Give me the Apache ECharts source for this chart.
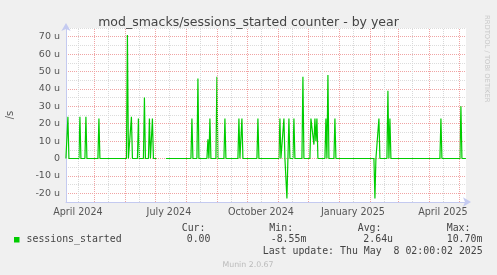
<!DOCTYPE html>
<html>
<head>
<meta charset="utf-8">
<script src="https://cdn.jsdelivr.net/npm/echarts@6/dist/echarts.min.js"></script>
<style>
  html, body { margin: 0; padding: 0; background: #f0f0f0; }
  #chart { width: 497px; height: 275px; }
</style>
</head>
<body>
<div id="chart"></div>
<script>
// ---- Data (per-day values, rate in micro /s) ----
const pointDates = [
  "2024-04-03","2024-04-04","2024-04-05","2024-04-06",
  "2024-04-16","2024-04-17","2024-04-18",
  "2024-04-22","2024-04-23","2024-04-24",
  "2024-05-05","2024-05-06","2024-05-07",
  "2024-06-02T12:00:00","2024-06-03T12:00:00","2024-06-04T12:00:00",
  "2024-06-06T12:00:00","2024-06-07T12:00:00","2024-06-08T12:00:00",
  "2024-06-13T12:00:00","2024-06-14T12:00:00","2024-06-15T12:00:00",
  "2024-06-19T12:00:00","2024-06-20T12:00:00","2024-06-21T12:00:00",
  "2024-06-24T12:00:00","2024-06-25T12:00:00","2024-06-26T12:00:00",
  "2024-06-27T12:00:00","2024-06-28T12:00:00","2024-06-29T12:00:00",
  "2024-07-02T12:00:00","2024-07-03","2024-07-11","2024-07-12",
  "2024-08-06","2024-08-07","2024-08-08",
  "2024-08-12","2024-08-13","2024-08-14",
  "2024-08-22","2024-08-23","2024-08-24","2024-08-25","2024-08-26",
  "2024-08-31","2024-09-01","2024-09-02",
  "2024-09-08","2024-09-09","2024-09-10",
  "2024-09-22","2024-09-23","2024-09-24","2024-09-25","2024-09-26","2024-09-27",
  "2024-10-11","2024-10-12","2024-10-13",
  "2024-11-02","2024-11-03","2024-11-04",
  "2024-11-06","2024-11-07","2024-11-08","2024-11-09","2024-11-10","2024-11-11","2024-11-12","2024-11-13",
  "2024-11-16","2024-11-17","2024-11-18",
  "2024-11-25","2024-11-26","2024-11-27",
  "2024-12-03","2024-12-04","2024-12-05","2024-12-06","2024-12-07","2024-12-08","2024-12-09","2024-12-10","2024-12-11",
  "2024-12-18","2024-12-19","2024-12-20","2024-12-21","2024-12-22",
  "2024-12-27","2024-12-28","2024-12-29",
  "2025-02-05","2025-02-06","2025-02-07",
  "2025-02-09","2025-02-10","2025-02-11",
  "2025-02-18","2025-02-19","2025-02-20","2025-02-21","2025-02-22",
  "2025-04-12","2025-04-13","2025-04-14",
  "2025-05-02","2025-05-03","2025-05-04",
  "2025-05-08"
];
const pointValues = [
  0,0,24,0,
  0,24,0,
  0,24,0,
  0,23,0,
  0,71,0,
  0,24,0,
  0,23,0,
  0,35,0,
  0,23,0,
  0,23,0,
  0,null,null,0,
  0,23,0,
  0,46,0,
  0,11,0,23,0,
  0,47,0,
  0,23,0,
  0,23,0,0,23,0,
  0,23,0,
  0,23,0,
  0,23,0,0,-23,0,23,0,
  0,23,0,
  0,47,0,
  0,23,22,23,8,23,10,23,0,
  0,23,0,48,0,
  0,23,0,
  0,-23,0,
  0,23,0,
  0,39,0,23,0,
  0,23,0,
  0,30,0,
  0
];
const seriesName = "sessions_started";
const rangeStart = "2024-04-03T02:00:00";
const rangeEnd = "2025-05-08T02:00:00";
const monthStarts = ["2024-05-01","2024-06-01","2024-07-01","2024-08-01","2024-09-01","2024-10-01",
  "2024-11-01","2024-12-01","2025-01-01","2025-02-01","2025-03-01","2025-04-01","2025-05-01"];
const midMonths = ["2024-04-15","2024-05-15","2024-06-15","2024-07-15","2024-08-15","2024-09-15",
  "2024-10-15","2024-11-15","2024-12-15","2025-01-15","2025-02-15","2025-03-15","2025-04-15"];
const xLabelDates = ["2024-04-15","2024-07-15","2024-10-15","2025-01-15","2025-04-15"];
const xLabelTexts = ["April 2024","July 2024","October 2024","January 2025","April 2025"];
const yMin = -25, yMax = 75, yStep = 5;
const legendHeads = ["Cur:","Min:","Avg:","Max:"];
const legendVals = ["0.00","-8.55m","2.64u","10.70m"];
const lastUpdate = "Last update: Thu May  8 02:00:02 2025";

// ---- helpers ----
function ts(s) { return new Date(s.length > 10 ? s : s + "T00:00:00").getTime(); }

const lineData = pointDates.map((d, i) => [ts(d), pointValues[i]]);
const sans = "DejaVu Sans";
const mono = "DejaVu Sans Mono";
const axisColor = "#c4caf0";

const chart = echarts.init(document.getElementById("chart"), null, { renderer: "canvas" });

chart.setOption({
  backgroundColor: "#f0f0f0",
  animation: false,
  title: {
    text: "mod_smacks/sessions_started counter - by year",
    left: "center", top: 11,
    textStyle: { fontFamily: sans, fontSize: 12.5, fontWeight: "normal", color: "#444" }
  },
  grid: { left: 66, right: 31, top: 28, bottom: 73, show: true, backgroundColor: "#ffffff", borderWidth: 0,
    containLabel: false, outerBoundsMode: "none" },
  xAxis: {
    type: "time",
    min: ts(rangeStart), max: ts(rangeEnd),
    axisLabel: { show: false },
    axisTick: { show: false },
    splitLine: { show: false },
    axisLine: { show: true, onZero: false, lineStyle: { color: axisColor, width: 1 },
      symbol: ["none", "arrow"], symbolSize: [7, 8], symbolOffset: [0, 5] }
  },
  yAxis: {
    type: "value",
    min: yMin, max: yMax, interval: yStep,
    axisTick: { show: false },
    axisLine: { show: true, lineStyle: { color: axisColor, width: 1 },
      symbol: ["none", "arrow"], symbolSize: [7, 8], symbolOffset: [0, 5] },
    axisLabel: {
      margin: 6, fontFamily: sans, fontSize: 9.5, color: "#555",
      formatter: v => (v % 10 === 0) ? (v === 0 ? "0" : v + " u") : ""
    },
    splitLine: { show: true, lineStyle: { type: "dotted", width: 1, color: ["#dcdcdc", "#f0a4a4"] } },
    name: "/s", nameLocation: "middle", nameGap: 51, nameRotate: 90,
    nameTextStyle: { fontFamily: sans, fontSize: 10, color: "#555" }
  },
  series: [
    {
      type: "line", z: 1, data: [], silent: true,
      markLine: {
        silent: true, symbol: ["none", "none"], label: { show: false },
        animation: false,
        data: midMonths.map(d => ({ xAxis: ts(d), lineStyle: { color: "#d8d8d8", type: "dotted", width: 1 } }))
          .concat(monthStarts.map(d => ({ xAxis: ts(d), lineStyle: { color: "#f0a4a4", type: "dotted", width: 1 } })))
      }
    },
    {
      name: seriesName, type: "line", z: 3,
      data: lineData, showSymbol: false, connectNulls: false,
      lineStyle: { color: "#00cc00", width: 1.2 },
      itemStyle: { color: "#00cc00" }
    }
  ]
});

// ---- texts positioned through the axis scale ----
const graphics = [];
xLabelDates.forEach((d, i) => {
  const px = chart.convertToPixel({ xAxisIndex: 0 }, ts(d));
  graphics.push({ type: "text", x: px, y: 212, style: { text: xLabelTexts[i], font: "9.6px " + sans,
    fill: "#555", textAlign: "center", textVerticalAlign: "middle" } });
});
graphics.push({ type: "text", x: 487, y: 15, rotation: -Math.PI / 2,
  style: { text: "RRDTOOL / TOBI OETIKER", font: "6.8px " + sans, fill: "#c8c8c8", textAlign: "left", textVerticalAlign: "middle" } });
graphics.push({ type: "rect", shape: { x: 14, y: 237, width: 5.5, height: 5.5 }, style: { fill: "#00cc00" } });
graphics.push({ type: "text", x: 26.5, y: 239.5, style: { text: seriesName, font: "9.9px " + mono, fill: "#444", textVerticalAlign: "middle" } });
const headX = [181.7, 269.3, 357.7, 446.7];
const valX = [186.7, 270.7, 363.3, 446.7];
legendHeads.forEach((h, i) => {
  graphics.push({ type: "text", x: headX[i], y: 228, style: { text: h, font: "9.9px " + mono, fill: "#444", textVerticalAlign: "middle" } });
  graphics.push({ type: "text", x: valX[i], y: 239.5, style: { text: legendVals[i], font: "9.9px " + mono, fill: "#444", textVerticalAlign: "middle" } });
});
graphics.push({ type: "text", x: 482.7, y: 251, style: { text: lastUpdate, font: "9.9px " + mono, fill: "#444", textAlign: "right", textVerticalAlign: "middle" } });
graphics.push({ type: "text", x: 248, y: 264.5, style: { text: "Munin 2.0.67", font: "7.8px " + sans, fill: "#bbbbbb", textAlign: "center", textVerticalAlign: "middle" } });
chart.setOption({ graphic: graphics });
</script>
</body>
</html>
